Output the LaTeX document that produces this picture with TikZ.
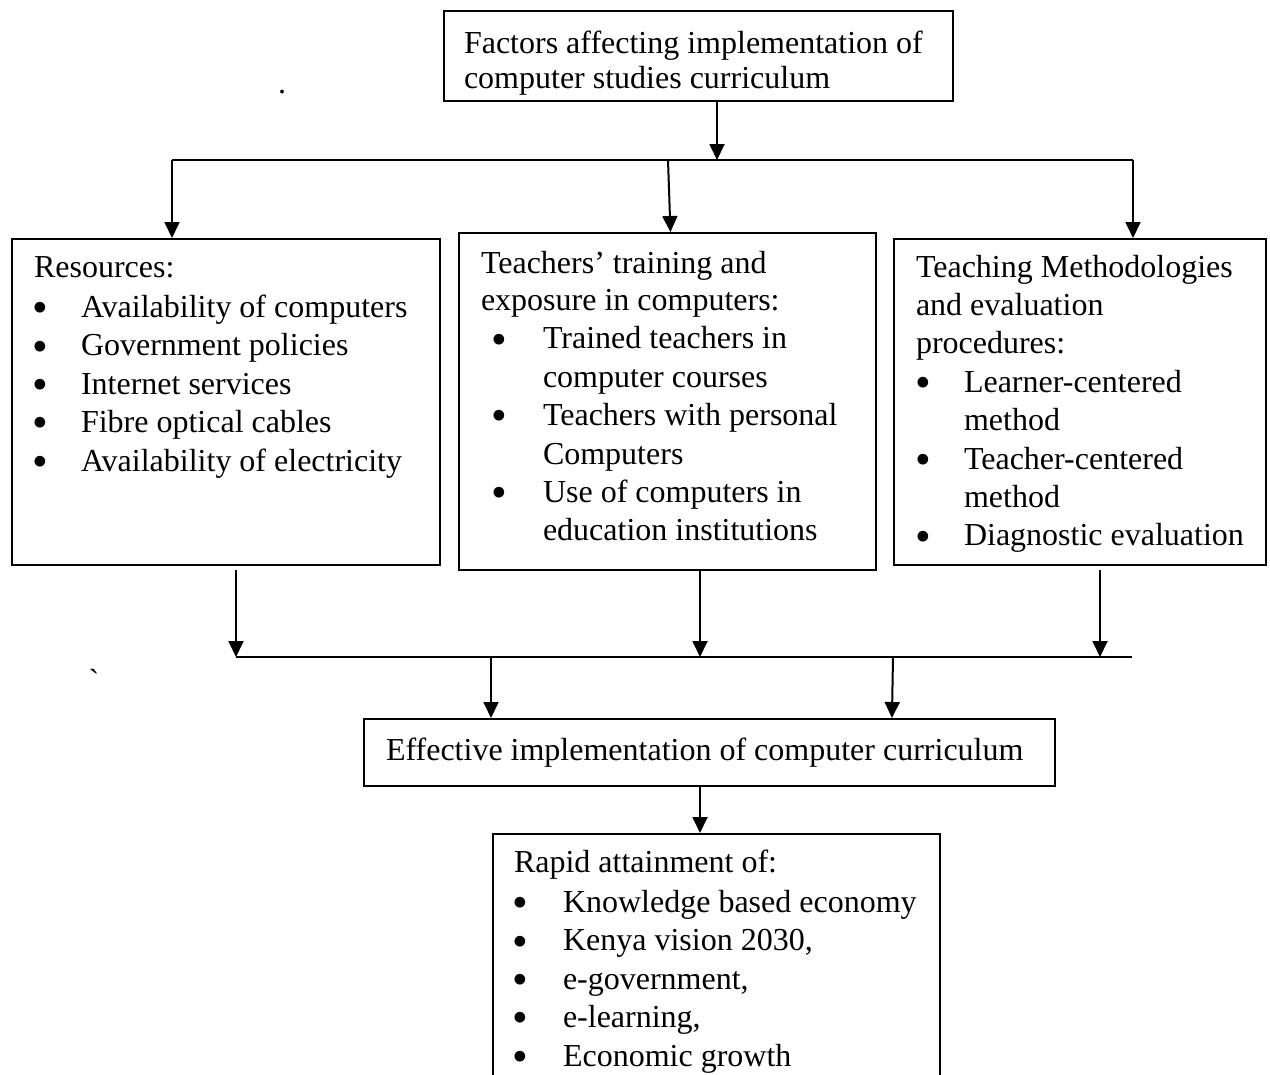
\documentclass[tikz,border=0pt]{standalone}
\usepackage{fontspec}
\setmainfont{Liberation Serif}
\usetikzlibrary{arrows.meta}

\newdimen\pxu \pxu=0.375pt
% bullet with its offset and the text indent
\newcommand{\bul}[2]{\makebox[#2\pxu][l]{\hspace*{#1\pxu}\raisebox{-2pt}{\scalebox{1.4}{\textbullet}}}}
\newcommand{\gap}[1]{\makebox[#1\pxu]{}}

\begin{document}
\begin{tikzpicture}[x=0.375pt,y=-0.375pt,line width=0.75pt,
  >={Triangle[length=6pt,width=5.6pt]},
  box/.style={draw,line width=0.75pt,inner sep=0pt,anchor=north west},
  txt/.style={inner sep=0pt,anchor=base west,font=\fontsize{12pt}{14.4pt}\selectfont}]
  \useasboundingbox (0,0) rectangle (1270,1074);
  \clip (0,0) rectangle (1270,1074);

  % boxes
  \node[box,minimum width=190.9pt,minimum height=33.75pt] (factors) at (443,10) {};
  \node[box,minimum width=160.5pt,minimum height=122.25pt] (res) at (11,238) {};
  \node[box,minimum width=156.4pt,minimum height=126.4pt] (teach) at (458,232) {};
  \node[box,minimum width=139.5pt,minimum height=122.25pt] (meth) at (893,238) {};
  \node[box,minimum width=259.1pt,minimum height=25.1pt] (eff) at (363,718) {};
  \node[box,minimum width=167.6pt,minimum height=105pt] (rapid) at (492,833) {};

  % texts
  \node[txt] (factors-txt) at (463,53) {\parbox[t]{480\pxu}{\raggedright
    Factors affecting implementation of\\[-3.4\pxu]
    computer studies curriculum}};
  \node[txt] (res-txt) at (33,277) {\parbox[t]{400\pxu}{\raggedright
    Resources:\\[2\pxu]
    \bul{-2}{47}Availability of computers\\
    \bul{-2}{47}Government policies\\
    \bul{-2}{47}Internet services\\
    \bul{-2}{47}Fibre optical cables\\
    \bul{-2}{47}Availability of electricity}};
  \node[txt] (teach-txt) at (480,273) {\parbox[t]{390\pxu}{\raggedright
    Teachers’ training and\\[-1\pxu]
    exposure in computers:\\
    \bul{10}{62}Trained teachers in\\
    \gap{62}computer courses\\
    \bul{10}{62}Teachers with personal\\
    \gap{62}Computers\\
    \bul{10}{62}Use of computers in\\
    \gap{62}education institutions}};
  \node[txt] (meth-txt) at (915,277) {\parbox[t]{345\pxu}{\raggedright
    Teaching Methodologies\\
    and evaluation\\
    procedures:\\
    \bul{-1}{48}Learner-centered\\
    \gap{48}method\\
    \bul{-1}{48}Teacher-centered\\
    \gap{48}method\\
    \bul{-1}{48}Diagnostic evaluation}};
  \node[txt] (eff-txt) at (385,760) {Effective implementation of computer curriculum};
  \node[txt] (rapid-txt) at (513,872) {\parbox[t]{420\pxu}{\raggedright
    Rapid attainment of:\\[2\pxu]
    \bul{-2}{49}Knowledge based economy\\
    \bul{-2}{49}Kenya vision 2030,\\
    \bul{-2}{49}e-government,\\
    \bul{-2}{49}e-learning,\\
    \bul{-2}{49}Economic growth}};

  % stray marks
  \node[txt,anchor=base] (dot) at (282,93) {.};
  \node[txt,anchor=north] (tick) at (94,668) {\textasciigrave};

  % upper connectors
  \coordinate (fj) at (717,160);
  \coordinate (bl) at (172,160);
  \coordinate (bm) at (668,160);
  \coordinate (br) at (1133,160);
  \draw[->] (factors.south -| fj) -- (fj);
  \draw (bl) -- (br);
  \draw[->] (bl) -- (bl |- res.north);
  \draw[->] (bm) -- ([xshift=1.1pt]teach.north);
  \draw[->] (br) -- (br |- meth.north);

  % lower connectors
  \coordinate (cl) at (236,657);
  \coordinate (cm) at (700,657);
  \coordinate (cq) at (1100,657);
  \coordinate (cr) at (1132,657);
  \draw[->,shorten <=1.5pt] (res.south -| cl) -- (cl);
  \draw[->] (teach.south -| cm) -- (cm);
  \draw[->,shorten <=1.5pt] (meth.south -| cq) -- (cq);
  \draw (cl) -- (cr);
  \coordinate (dl) at (491,657);
  \coordinate (dr) at (893,657);
  \draw[->] (dl) -- (dl |- eff.north);
  \draw[->] (dr) -- ([xshift=-0.4pt]dr |- eff.north);
  \draw[->] (eff.south -| 700,0) -- (rapid.north -| 700,0);
\end{tikzpicture}
\end{document}
